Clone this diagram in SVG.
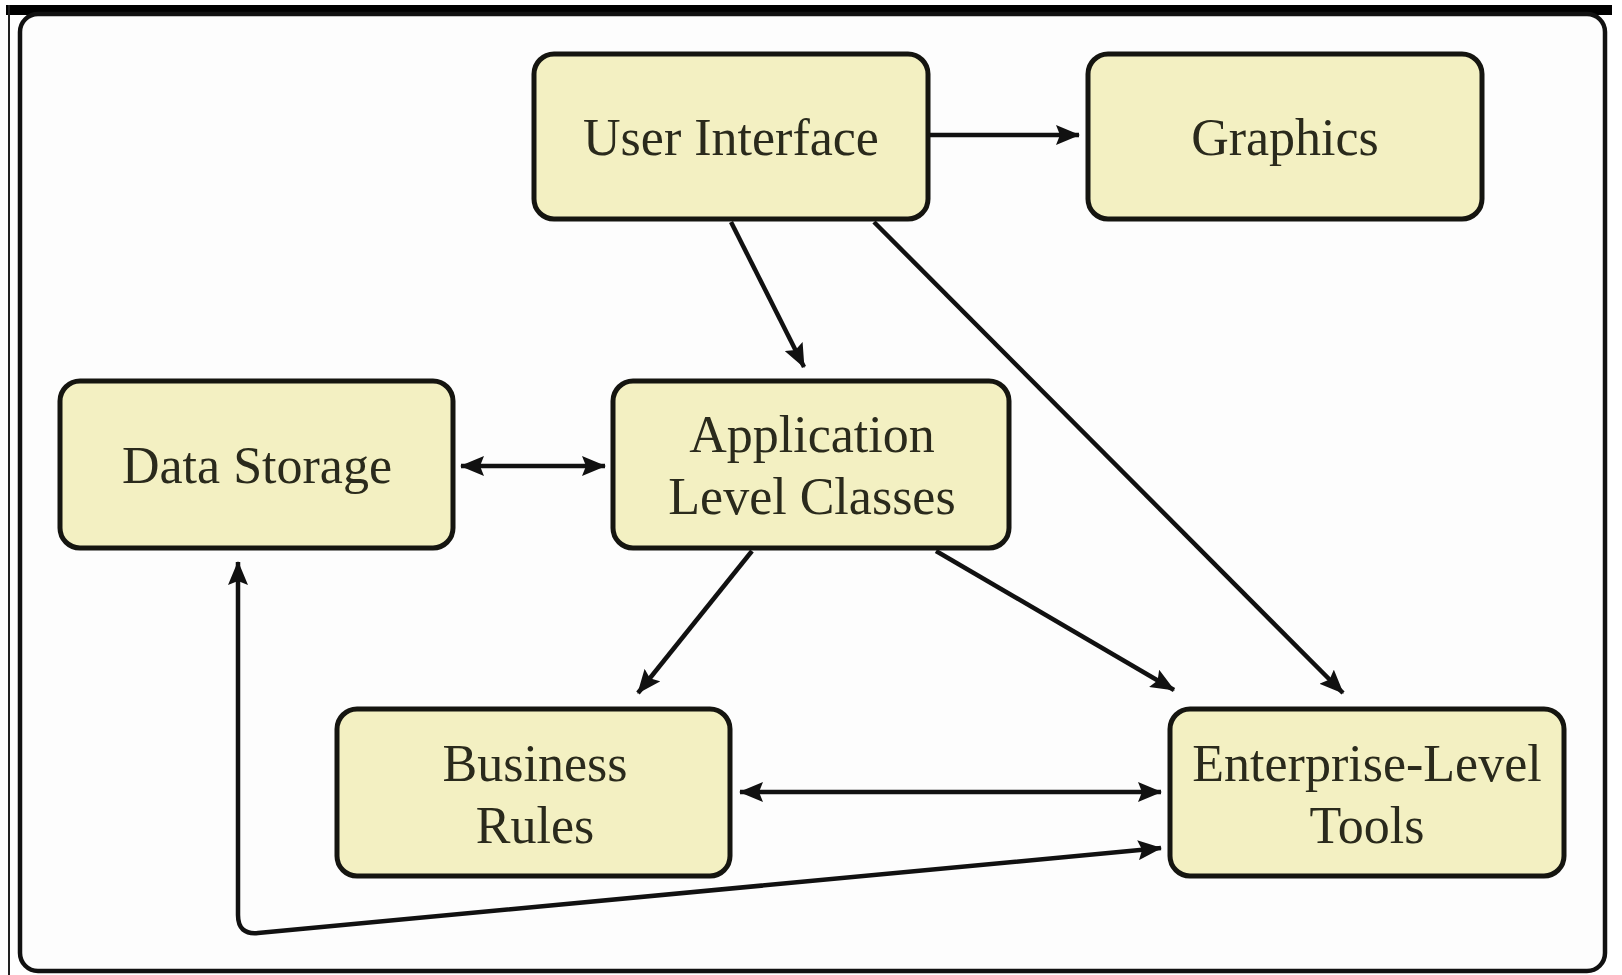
<svg xmlns="http://www.w3.org/2000/svg" width="1622" height="975" viewBox="0 0 1622 975">
  <defs>
    <style>
      .box { fill: #f3f0c2; stroke: #151510; stroke-width: 5; }
      .label { font-family: "Liberation Serif", "Times New Roman", serif; font-size: 52px; fill: #2a2a1c; text-anchor: middle; }
      .edge { fill: none; stroke: #111; stroke-width: 4.5; }
    </style>
    <marker id="arrow" viewBox="0 0 24 20" refX="23" refY="10" markerWidth="24" markerHeight="20" markerUnits="userSpaceOnUse" orient="auto-start-reverse">
      <path d="M0,0 L24,10 L0,20 L4,10 z" fill="#111"/>
    </marker>
  </defs>

  <rect x="0" y="0" width="1622" height="975" fill="#ffffff"/>

  <!-- outer frame -->
  <g id="frame">
    <line x1="6" y1="10" x2="1612" y2="10" stroke="#000" stroke-width="10"/>
    <line x1="9" y1="5" x2="9" y2="975" stroke="#222" stroke-width="2"/>
    <rect x="20" y="14" width="1585" height="957" rx="18" fill="#fdfdfd" stroke="#111" stroke-width="4.5"/>
  </g>

  <!-- connectors -->
  <g id="connectors">
    <line class="edge" x1="928" y1="135" x2="1079" y2="135" marker-end="url(#arrow)"/>
    <line class="edge" x1="731" y1="222" x2="804" y2="367" marker-end="url(#arrow)"/>
    <line class="edge" x1="874" y1="222" x2="1343" y2="693" marker-end="url(#arrow)"/>
    <line class="edge" x1="461" y1="466" x2="605" y2="466" marker-start="url(#arrow)" marker-end="url(#arrow)"/>
    <line class="edge" x1="752" y1="551" x2="638" y2="693" marker-end="url(#arrow)"/>
    <line class="edge" x1="936" y1="551" x2="1174" y2="690" marker-end="url(#arrow)"/>
    <line class="edge" x1="740" y1="792" x2="1161" y2="792" marker-start="url(#arrow)" marker-end="url(#arrow)"/>
    <path class="edge" d="M1161,848 L258,933 Q238,935 238,915 L238,562" marker-start="url(#arrow)" marker-end="url(#arrow)"/>
  </g>

  <g id="user-interface">
    <rect class="box" x="534" y="54" width="394" height="165" rx="20"/>
    <text class="label" x="731" y="155">User Interface</text>
  </g>

  <g id="graphics">
    <rect class="box" x="1088" y="54" width="394" height="165" rx="20"/>
    <text class="label" x="1285" y="155">Graphics</text>
  </g>

  <g id="data-storage">
    <rect class="box" x="60" y="381" width="393" height="167" rx="20"/>
    <text class="label" x="257" y="483">Data Storage</text>
  </g>

  <g id="application-level-classes">
    <rect class="box" x="613" y="381" width="396" height="167" rx="20"/>
    <text class="label" x="812" y="452">Application</text>
    <text class="label" x="812" y="514">Level Classes</text>
  </g>

  <g id="business-rules">
    <rect class="box" x="337" y="709" width="393" height="167" rx="20"/>
    <text class="label" x="535" y="781">Business</text>
    <text class="label" x="535" y="843">Rules</text>
  </g>

  <g id="enterprise-level-tools">
    <rect class="box" x="1170" y="709" width="394" height="167" rx="20"/>
    <text class="label" x="1367" y="781">Enterprise-Level</text>
    <text class="label" x="1367" y="843">Tools</text>
  </g>
</svg>
